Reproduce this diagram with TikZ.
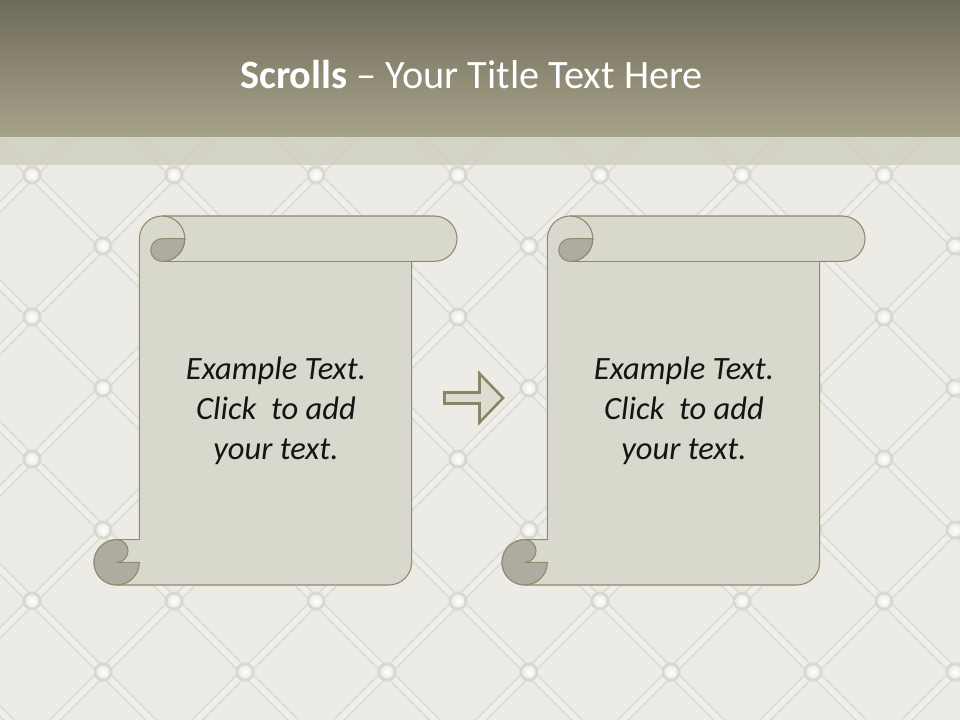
\documentclass[tikz,border=0pt]{standalone}
\usepackage{fontspec}
\setmainfont{Carlito}
\definecolor{bgbase}{HTML}{ECEBE6}
\definecolor{seamdark}{HTML}{DDDCD5}
\definecolor{seamlight}{HTML}{EFEEEA}
\definecolor{btnring}{HTML}{D9D8D0}
\definecolor{btnin}{HTML}{F3F2EE}
\definecolor{titletop}{HTML}{6F6B5A}
\definecolor{titlebot}{HTML}{A7A38A}
\definecolor{bandcol}{HTML}{CFCDC0}
\definecolor{scrollfill}{HTML}{D9D8CC}
\definecolor{scrolldk}{HTML}{AEACA1}
\definecolor{scrollline}{HTML}{8E8A6E}
\definecolor{arrowline}{HTML}{8A8566}
\definecolor{arrowfill}{HTML}{DDDCD0}
\tikzset{
  seamA/.style={draw=seamdark, line width=7pt, line cap=round},
  seamB/.style={draw=seamlight, line width=4pt, line cap=round},
  scrollbody/.style={fill=scrollfill, draw=scrollline, line width=0.8pt, line join=round},
  scrolledge/.style={draw=scrollline, line width=0.8pt},
  scrolldark/.style={fill=scrolldk, draw=scrollline, line width=0.8pt, line join=round},
  bodytext/.style={text=black!92, align=center, font=\fontsize{24.4}{30}\selectfont\itshape, inner sep=0pt},
  titletext/.style={text=white, font=\fontsize{30.2}{36}\selectfont, inner sep=0pt},
  arrowshape/.style={fill=arrowfill, draw=arrowline, line width=1.9pt, line join=miter}
}
\begin{document}
\begin{tikzpicture}[x=0.75pt,y=-0.75pt]
\useasboundingbox (0,0) rectangle (960,720);
\fill[bgbase] (0,0) rectangle (960,720);
% quilted pattern
\begin{scope}
\clip (0,137) rectangle (960,720);
\foreach \j in {-3,...,8}{
  \foreach \m in {-1,...,7}{
    \pgfmathsetmacro\bx{32+142*\m+71*mod(\j+10,2)}
    \pgfmathsetmacro\by{175+71*\j}
    \draw[seamA] (\bx,\by) -- ++(71,71);
    \draw[seamA] (\bx,\by) -- ++(71,-71);
  }
}
\foreach \j in {-3,...,8}{
  \foreach \m in {-1,...,7}{
    \pgfmathsetmacro\bx{32+142*\m+71*mod(\j+10,2)}
    \pgfmathsetmacro\by{175+71*\j}
    \draw[seamB] (\bx,\by) -- ++(71,71);
    \draw[seamB] (\bx,\by) -- ++(71,-71);
  }
}
\foreach \j in {-3,...,8}{
  \foreach \m in {-1,...,7}{
    \pgfmathsetmacro\bx{32+142*\m+71*mod(\j+10,2)}
    \pgfmathsetmacro\by{175+71*\j}
    \fill[btnring] (\bx,\by) circle (9.5);
    \shade[inner color=white, outer color=btnin!80!btnring] (\bx,\by) circle (6.5);
  }
}
\end{scope}
% band under title
\fill[bandcol, opacity=0.8] (0,137) rectangle (960,165);
% title bar
\shade[top color=titletop, bottom color=titlebot] (0,0) rectangle (960,137);
\node[titletext] (title) at (471.5,75) {\textbf{Scrolls} -- Your Title Text Here};
% scrolls
\foreach \ox/\nm in {0/a,408/b}{
\begin{scope}[shift={(\ox,0)}]
\path[scrollbody] (116.7,585) arc[start angle=90, end angle=270, radius=22.7]
  -- (139.4,539.6) -- (139.4,238.7) arc[start angle=180, end angle=270, radius=22.7]
  -- (434.3,216) arc[start angle=270, end angle=450, radius=22.7]
  -- (411.6,261.4) -- (411.6,562.3) arc[start angle=0, end angle=90, radius=22.7] -- cycle;
\draw[scrolledge] (162.1,261.4) -- (411.6,261.4);
\draw[scrolledge] (162.1,216) arc[start angle=270, end angle=450, radius=22.7];
\path[scrolldark] (162.1,238.7) -- (184.8,238.7) arc[start angle=0, end angle=90, radius=22.7]
  arc[start angle=90, end angle=270, radius=11.35] -- cycle;
\path[scrolldark] (116.7,539.6) arc[start angle=270, end angle=450, radius=11.35]
  -- (139.4,562.3) arc[start angle=0, end angle=270, radius=22.7] -- cycle;
\node[bodytext] (text\nm) at (276,411) {Example Text.\\Click\ \ to add\\your text.};
\end{scope}
}
% arrow
\path[arrowshape] (444.5,392.5) -- (479.5,392.5) -- (479.5,373.5) -- (503,398) -- (479.5,422.5) -- (479.5,403.5) -- (444.5,403.5) -- cycle;
\end{tikzpicture}
\end{document}
